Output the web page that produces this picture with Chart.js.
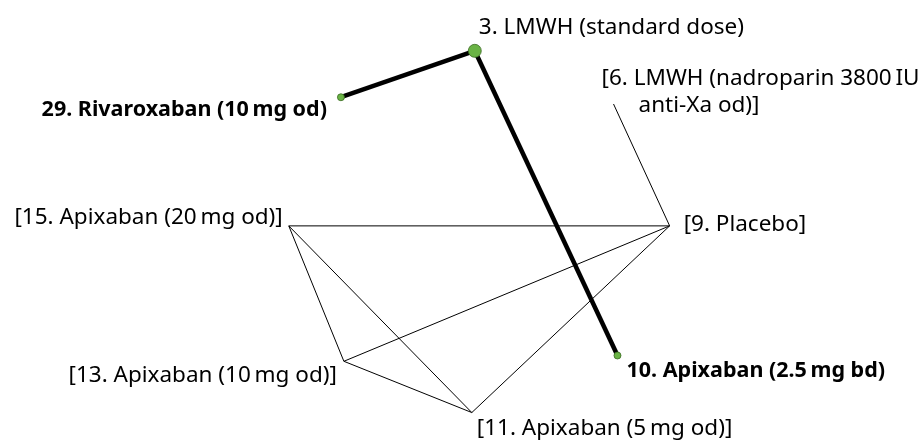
<!DOCTYPE html>
<html>
<head>
<meta charset="utf-8">
<script src="https://cdn.jsdelivr.net/npm/chart.js@4"></script>
<style>
  html, body { margin: 0; padding: 0; background: #fff; }
  #wrap { width: 922px; height: 445px; }
</style>
</head>
<body>
<div id="wrap"><canvas id="net"></canvas></div>
<script>
// network nodes (layout positions)
const nodeNames = [
    '3. LMWH (standard dose)',
    '[6. LMWH (nadroparin 3800\u2009IU|anti-Xa od)]',
    '[9. Placebo]',
    '10. Apixaban (2.5\u2009mg bd)',
    '[11. Apixaban (5\u2009mg od)]',
    '[13. Apixaban (10\u2009mg od)]',
    '[15. Apixaban (20\u2009mg od)]',
    '29. Rivaroxaban (10\u2009mg od)'
];
const nodeX = [475, 616, 673, 620, 472, 342, 286, 339];
const nodeY = [45, 100, 226, 360, 419, 366, 226, 93];
const nodeSize = [6.5, 0, 0, 3.5, 0, 0, 0, 3.5];

// comparisons (edges) between nodes
const edgeFrom = [7, 0, 1, 6, 6, 6, 5, 5, 4];
const edgeTo = [0, 3, 2, 2, 5, 4, 2, 4, 2];
const edgeWeight = [4.5, 4.5, 1, 1, 1, 1, 1, 1, 1];

// label placement relative to node: dx, dy, align, bold
const labelStyle = [
    {dx: 4, dy: -23, align: 'left', bold: false},
    {dx: -12, dy: -25, align: 'left', bold: false, indent: 37},
    {dx: 14, dy: -1, align: 'left', bold: false},
    {dx: 9, dy: 15, align: 'left', bold: true},
    {dx: 5, dy: 16, align: 'left', bold: false},
    {dx: -7, dy: 14, align: 'right', bold: false},
    {dx: -6, dy: -8, align: 'right', bold: false},
    {dx: -14, dy: 13, align: 'right', bold: true}
];

const FONT = '"Noto Sans", "Open Sans", sans-serif';

const datasets = [];
edgeFrom.forEach((f, i) => {
    const t = edgeTo[i];
    datasets.push({
        type: 'line',
        data: [{x: nodeX[f], y: nodeY[f]}, {x: nodeX[t], y: nodeY[t]}],
        borderColor: '#000',
        borderWidth: edgeWeight[i],
        pointRadius: 0,
        fill: false,
        order: 1
    });
});
// nodes on top of the edges
datasets.push({
    type: 'scatter',
    data: nodeX.map((x, i) => ({x: x, y: nodeY[i]})),
    pointRadius: nodeSize,
    backgroundColor: '#6ab345',
    borderColor: '#3a6a22',
    borderWidth: 0.8,
    order: 0
});

const labelPlugin = {
    id: 'nodeLabels',
    afterDatasetsDraw(chart) {
        const ctx = chart.ctx;
        const xs = chart.scales.x, ys = chart.scales.y;
        ctx.save();
        ctx.fillStyle = '#000';
        ctx.textBaseline = 'middle';
        nodeNames.forEach((name, i) => {
            const s = labelStyle[i];
            const px = xs.getPixelForValue(nodeX[i]) + s.dx;
            const py = ys.getPixelForValue(nodeY[i]) + s.dy;
            ctx.font = s.bold ? 'bold 21.5px ' + FONT : '22.5px ' + FONT;
            ctx.textAlign = s.align;
            const lines = name.split('|');
            lines.forEach((line, k) => {
                ctx.fillText(line, px + (k > 0 ? (s.indent || 0) : 0), py + k * 27);
            });
        });
        ctx.restore();
    }
};

new Chart(document.getElementById('net'), {
    data: {datasets: datasets},
    options: {
        responsive: true,
        maintainAspectRatio: false,
        animation: false,
        layout: {padding: 0},
        plugins: {legend: {display: false}, tooltip: {enabled: false}},
        scales: {
            x: {type: 'linear', min: 0, max: 922, display: false},
            y: {type: 'linear', min: 0, max: 445, reverse: true, display: false}
        }
    },
    plugins: [labelPlugin]
});
</script>
</body>
</html>
